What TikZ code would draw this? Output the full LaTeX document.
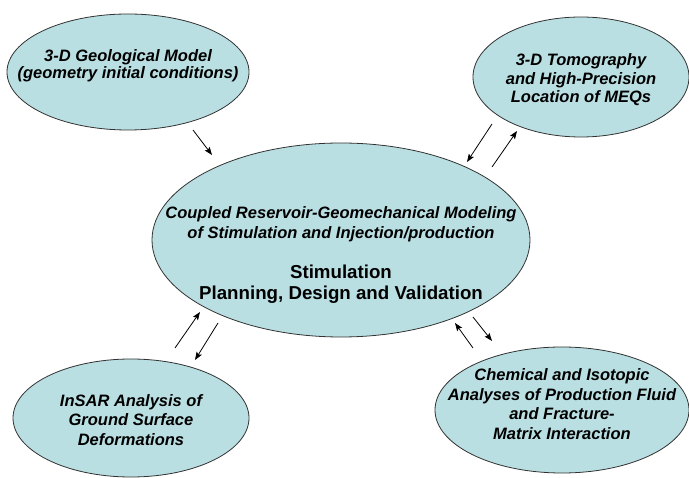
\documentclass[tikz,border=0pt]{standalone}
\usepackage{fontspec}
\setmainfont{Liberation Sans}
\usetikzlibrary{
    arrows.meta,
    shapes,
}
\definecolor{bubblefill}{RGB}{186,223,226}
\definecolor{bubbleline}{RGB}{50,50,50}

\begin{document}
\begin{tikzpicture}[x=1pt, y=-1pt, >={Stealth[length=8pt, width=6pt, inset=1.5pt]},
    bubble/.style = {draw=bubbleline, line width=0.8pt, fill=bubblefill, ellipse, inner sep=0pt},
    note/.style = {align=center, font=\fontsize{16.5}{19.5}\selectfont\bfseries\itshape},
    plain/.style = {align=center, font=\fontsize{18.7}{20.5}\selectfont\bfseries},
    link/.style = {->, line width=0.8pt}]
    \useasboundingbox (0,0) rectangle (689,478);
    % the five ovals
    \node[bubble, minimum width=242pt, minimum height=116pt] (geo) at (128,72) {};
    \node[bubble, minimum width=216pt, minimum height=120pt] (tomo) at (581,77) {};
    \node[bubble, minimum width=378pt, minimum height=194pt] (core) at (341,240) {};
    \node[bubble, minimum width=236pt, minimum height=118pt] (insar) at (131,418) {};
    \node[bubble, minimum width=254pt, minimum height=126pt] (chem) at (562,410) {};
    % texts
    \node[note, font=\fontsize{16.5}{17}\selectfont\bfseries\itshape] (geotext) at (128,66)
        {3-D Geological Model\\(geometry initial conditions)};
    \node[note, font=\fontsize{16.5}{18.5}\selectfont\bfseries\itshape] (tomotext) at (581,80)
        {3-D Tomography\\and High-Precision\\Location of MEQs};
    \node[note, font=\fontsize{16.5}{20}\selectfont\bfseries\itshape] (coretop) at (341,224)
        {Coupled Reservoir-Geomechanical Modeling\\of Stimulation and Injection/production};
    \node[plain] (corebottom) at (341,284) {Stimulation\\Planning, Design and Validation};
    \node[note] (insartext) at (131,420)
        {InSAR Analysis of\\Ground Surface\\Deformations};
    \node[note] (chemtext) at (562,404)
        {Chemical and Isotopic\\Analyses of Production Fluid\\and Fracture-\\Matrix Interaction};
    % arrow ends
    \coordinate (g1) at (193,130);   \coordinate (g2) at (212,155);
    \coordinate (t1) at (492,124);   \coordinate (t2) at (467,162);
    \coordinate (t3) at (492,167);   \coordinate (t4) at (517,131);
    \coordinate (i1) at (175,348);   \coordinate (i2) at (200,312);
    \coordinate (i3) at (218,323);   \coordinate (i4) at (195,360);
    \coordinate (c1) at (473,348);   \coordinate (c2) at (455,323);
    \coordinate (c3) at (473,317);   \coordinate (c4) at (492,341);
    % arrows
    \draw[link] (g1) -- (g2);
    \draw[link] (t1) -- (t2);
    \draw[link] (t3) -- (t4);
    \draw[link] (i1) -- (i2);
    \draw[link] (i3) -- (i4);
    \draw[link] (c1) -- (c2);
    \draw[link] (c3) -- (c4);
\end{tikzpicture}
\end{document}
